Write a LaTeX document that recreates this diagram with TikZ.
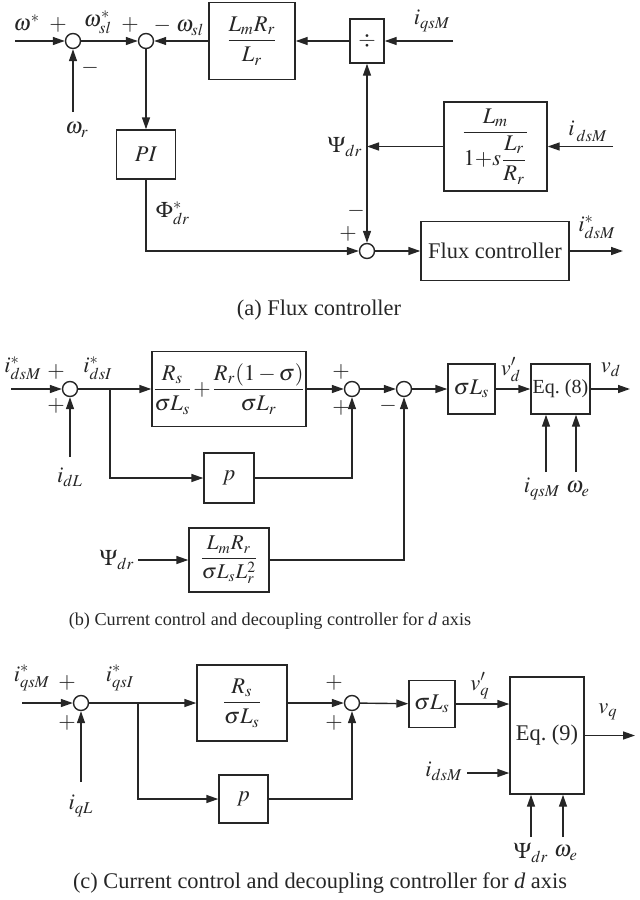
\documentclass[tikz,border=0pt]{standalone}
\usepackage{amsmath}
\usepackage{mathptmx}
\usepackage{fontspec}
\setmainfont{Liberation Serif}
\usetikzlibrary{arrows.meta}
\begin{document}
\begin{tikzpicture}[x=0.5pt,y=-0.5pt,
  line width=0.7pt, color=black!85,
  every node/.style={font=\fontsize{11.2}{13}\selectfont},
  arr/.style={-{Triangle[length=6pt,width=4pt]}},
  blk/.style={draw, rectangle, inner sep=0pt},
  sumj/.style={draw, circle, inner sep=0pt, minimum size=7.5pt, fill=white},
  lbl/.style={inner sep=0pt},
  sgn/.style={inner sep=0pt},
  capb/.style={inner sep=0pt, font=\fontsize{9.1}{11}\selectfont},
  capa/.style={inner sep=0pt, font=\fontsize{11.2}{13}\selectfont}]
\useasboundingbox (0,0) rectangle (639,900);

% ---------------- (a) ----------------
\node[sumj] (s1) at (73,41) {};
\node[sumj] (s2) at (146,41) {};
\node[blk, minimum width=43pt, minimum height=38.5pt] (b1) at (252,41) {$\dfrac{L_mR_r}{L_r}$};
\node[blk, minimum width=17pt, minimum height=22pt] (dv) at (367,41) {$\div$};
\node[blk, minimum width=51.5pt, minimum height=44.5pt] (b2) at (495.5,146.5) {$\dfrac{L_m}{1{+}s\dfrac{L_r}{R_r}}$};
\node[blk, minimum width=29.5pt, minimum height=24.5pt] (pi) at (146,154.5) {$PI$};
\node[sumj] (s3) at (367,251) {};
\node[blk, minimum width=74pt, minimum height=29.5pt] (fc) at (495,251) {Flux controller};

\coordinate (a_in) at (15,41);
\coordinate (a_wr) at (73,112);
\coordinate (a_iq) at (453,41);
\coordinate (a_j) at (367,146.5);
\coordinate (a_id) at (613,146.5);
\coordinate (a_out) at (623,251);

\draw[arr] (a_in) -- (s1);
\draw[arr] (a_wr) -- (s1);
\draw[arr] (s1) -- (s2);
\draw[arr] (b1) -- (s2);
\draw[arr] (dv) -- (b1);
\draw[arr] (a_iq) -- (dv);
\draw[arr] (a_j) -- (dv);
\draw[arr] (a_j) -- (s3);
\draw[arr] (b2) -- (a_j);
\draw[arr] (a_id) -- (b2);
\draw[arr] (s2) -- (pi);
\draw[arr] (pi.south) -- (pi.south |- s3) -- (s3);
\draw[arr] (s3) -- (fc);
\draw[arr] (fc) -- (a_out);

\node[lbl] at (27,23) {$\omega^{*}$};
\node[sgn] at (58,25) {$+$};
\node[sgn] at (90,68) {$-$};
\node[lbl] at (77,130) {$\omega_r$};
\node[lbl] at (98,22) {$\omega^{*}_{sl}$};
\node[sgn] at (130,25) {$+$};
\node[lbl] at (179,27) {$-\;\omega_{sl}$};
\node[lbl] at (432,21) {$i_{qsM}$};
\node[lbl] at (345,147) {$\Psi_{dr}$};
\node[lbl] at (588,129) {$i^{\vphantom{A}}_{\,dsM}$};
\node[sgn] at (356,211) {$-$};
\node[sgn] at (348,234) {$+$};
\node[lbl] at (173,213) {$\Phi^{*}_{dr}$};
\node[lbl] at (597,227) {$i^{*}_{dsM}$};
\node[capa] at (319,310) {(a) Flux controller};

% ---------------- (b) ----------------
\node[sumj] (t1) at (70,389) {};
\node[blk, minimum width=77pt, minimum height=37.5pt] (tb1) at (229,389) {$\dfrac{R_s}{\sigma L_s}\!+\!\dfrac{R_r(1-\sigma)}{\sigma L_r}$};
\node[blk, minimum width=25pt, minimum height=25pt] (tp) at (229,478) {$p$};
\node[sumj] (t2) at (352,389) {};
\node[sumj] (t3) at (404,389) {};
\node[blk, minimum width=40pt, minimum height=32pt, font=\fontsize{10.5}{12}\selectfont] (tb2) at (229,560) {$\dfrac{L_mR_r}{\sigma L_sL_r^2}$};
\node[blk, minimum width=23.5pt, minimum height=25pt] (tsg) at (471.5,389) {$\sigma L_s$};
\node[blk, minimum width=29.5pt, minimum height=25pt, font=\fontsize{10}{12}\selectfont] (eq8) at (560.5,389) {Eq.\ (8)};

\coordinate (b_in) at (11,389);
\coordinate (b_idl) at (70,457);
\coordinate (b_br) at (110,389);
\coordinate (b_psi) at (138,560);
\coordinate (b_out) at (630,389);
\coordinate (b_iq) at (546,472);
\coordinate (b_we) at (576,472);

\draw[arr] (b_in) -- (t1);
\draw[arr] (b_idl) -- (t1);
\draw[arr] (t1) -- (tb1);
\draw[arr] (b_br) |- (tp);
\draw[arr] (tb1) -- (t2);
\draw[arr] (tp) -| (t2);
\draw[arr] (t2) -- (t3);
\draw[arr] (b_psi) -- (tb2);
\draw[arr] (tb2) -| (t3);
\draw[arr] (t3) -- (tsg);
\draw[arr] (tsg) -- (eq8);
\draw[arr] (eq8) -- (b_out);
\draw[arr] (b_iq) -- (b_iq |- eq8.south);
\draw[arr] (b_we) -- (b_we |- eq8.south);

\node[lbl] at (23,368) {$i^{*}_{dsM}$};
\node[sgn] at (56,372) {$+$};
\node[sgn] at (56,406) {$+$};
\node[lbl] at (70,477) {$i_{dL}$};
\node[lbl] at (98,368) {$i^{*}_{dsI}$};
\node[sgn] at (341,372) {$+$};
\node[sgn] at (341,408) {$+$};
\node[sgn] at (388,406) {$-$};
\node[lbl] at (117,560) {$\Psi_{dr}$};
\node[lbl] at (511,370) {$v'_d$};
\node[lbl] at (611,370) {$v_d$};
\node[lbl] at (542,489) {$i_{qsM}$};
\node[lbl] at (578,489) {$\omega_e$};
\node[capb] at (270,621) {(b) Current control and decoupling controller for \textit{d} axis};

% ---------------- (c) ----------------
\node[sumj] (u1) at (81,703) {};
\node[blk, minimum width=45pt, minimum height=38pt] (ub1) at (242,703) {$\dfrac{R_s}{\sigma L_s}$};
\node[blk, minimum width=24.5pt, minimum height=24pt] (up) at (243.5,799) {$p$};
\node[sumj] (u2) at (352,703) {};
\node[blk, minimum width=23pt, minimum height=23.5pt] (usg) at (432,704) {$\sigma L_s$};
\node[blk, minimum width=37pt, minimum height=58.5pt] (eq9) at (547,735.5) {Eq.\ (9)};

\coordinate (c_in) at (22,703);
\coordinate (c_iql) at (81,782);
\coordinate (c_br) at (138,703);
\coordinate (c_ids) at (467,773);
\coordinate (c_out) at (635,735.5);
\coordinate (c_psi) at (531,837);
\coordinate (c_we) at (563,837);

\draw[arr] (c_in) -- (u1);
\draw[arr] (c_iql) -- (u1);
\draw[arr] (u1) -- (ub1);
\draw[arr] (c_br) |- (up);
\draw[arr] (ub1) -- (u2);
\draw[arr] (up) -| (u2);
\draw[arr] (u2) -- (usg);
\draw[arr] (usg.east) -- (usg.east -| eq9.west);
\draw[arr] (eq9) -- (c_out);
\draw[arr] (c_ids) -- (c_ids -| eq9.west);
\draw[arr] (c_psi) -- (c_psi |- eq9.south);
\draw[arr] (c_we) -- (c_we |- eq9.south);

\node[lbl] at (32,678) {$i^{*}_{qsM}$};
\node[sgn] at (67,683) {$+$};
\node[sgn] at (67,723) {$+$};
\node[lbl] at (81,806) {$i_{qL}$};
\node[lbl] at (120,678) {$i^{*}_{qsI}$};
\node[sgn] at (334,683) {$+$};
\node[sgn] at (334,723) {$+$};
\node[lbl] at (480,686) {$v'_q$};
\node[lbl] at (608,712) {$v_q$};
\node[lbl] at (444,771) {$i_{dsM}$};
\node[lbl] at (531,853) {$\Psi_{dr}$};
\node[lbl] at (566,853) {$\omega_e$};
\node[capa] at (320,883) {(c) Current control and decoupling controller for \textit{d} axis};
\end{tikzpicture}
\end{document}
